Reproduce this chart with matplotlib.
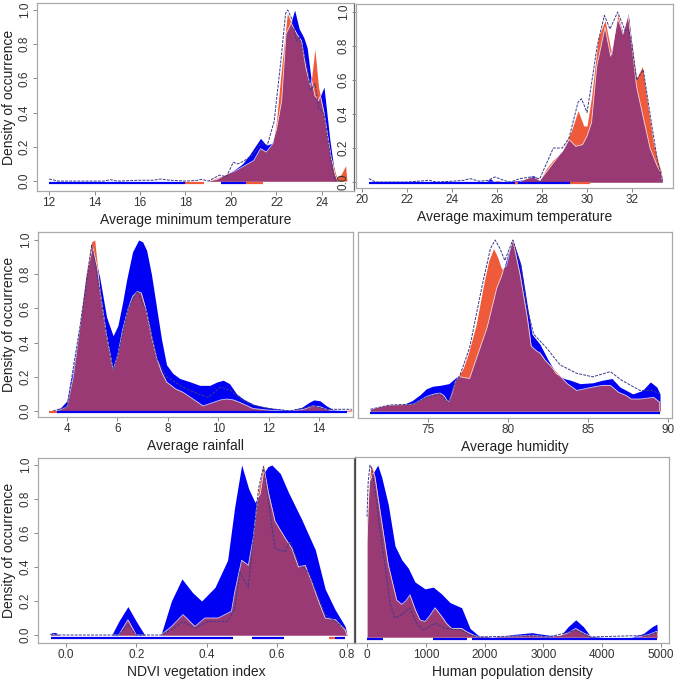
import matplotlib
matplotlib.use('Agg')
import matplotlib.pyplot as plt
import numpy as np

plt.rcParams['font.family'] = ['Liberation Sans', 'DejaVu Sans']

BLUE = '#0000F5'
RED = '#EE5A3A'
PURPLE = '#9A3A74'
DASH = '#3A3A8A'

# ---- Average minimum temperature
xb1 = [12.0, 19.0, 19.4, 19.8, 20.2, 20.5, 20.8, 21.0, 21.3, 21.55, 21.8, 22.0, 22.23, 22.42, 22.6, 22.8, 23.0, 23.2, 23.35, 23.5, 23.69, 23.85, 24.09, 24.35, 24.55, 24.7]
yb1 = [0.0, 0.0, 0.01, 0.04, 0.07, 0.10, 0.15, 0.19, 0.25, 0.21, 0.22, 0.30, 0.47, 0.86, 0.91, 1.00, 0.89, 0.84, 0.78, 0.62, 0.50, 0.47, 0.55, 0.24, 0.05, 0.0]
xr1 = [12.0, 19.0, 19.4, 19.8, 20.2, 20.6, 21.0, 21.3, 21.55, 21.85, 22.0, 22.23, 22.48, 22.7, 22.9, 23.1, 23.3, 23.5, 23.69, 23.85, 24.09, 24.4, 24.65, 24.85, 25.04, 25.1]
yr1 = [0.0, 0.0, 0.02, 0.04, 0.06, 0.09, 0.12, 0.19, 0.17, 0.22, 0.35, 0.67, 0.98, 0.91, 0.86, 0.82, 0.66, 0.55, 0.77, 0.55, 0.40, 0.14, 0.02, 0.04, 0.09, 0.0]
xd1 = [12.0, 12.15, 12.4, 14.4, 14.7, 15.0, 16.0, 16.6, 16.9, 17.3, 18.0, 18.5, 18.7, 19.0, 19.5, 19.8, 20.1, 20.3, 20.6, 21.0, 21.3, 21.6, 21.9, 22.2, 22.4, 22.5, 22.7, 22.88, 23.0, 23.15, 23.38, 23.5, 23.7, 23.85, 24.1, 24.27, 24.45, 24.6]
yd1 = [0.012, 0.008, 0.0, 0.0, 0.008, 0.0, 0.005, 0.005, 0.012, 0.005, 0.0, 0.004, 0.01, 0.0, 0.035, 0.025, 0.11, 0.10, 0.12, 0.16, 0.22, 0.21, 0.35, 0.71, 0.98, 1.0, 0.94, 0.82, 0.84, 0.78, 0.65, 0.53, 0.57, 0.43, 0.39, 0.24, 0.08, 0.0]
rug1 = [(12.0, 18.0, BLUE), (18.0, 18.8, RED), (19.55, 20.65, BLUE), (20.65, 21.4, RED)]

# ---- Average maximum temperature
xb2 = [20.3, 25.5, 25.7, 25.9, 26.3, 27.0, 27.3, 27.6, 27.9, 28.2, 28.6, 29.0, 29.2, 29.5, 29.8, 30.0, 30.2, 30.43, 30.8, 31.05, 31.36, 31.6, 31.83, 32.0, 32.2, 32.5, 32.8, 33.1, 33.3, 33.35]
yb2 = [0.0, 0.0, 0.02, 0.0, 0.0, 0.01, 0.02, 0.04, 0.01, 0.06, 0.13, 0.20, 0.25, 0.21, 0.22, 0.27, 0.35, 0.68, 0.91, 0.74, 0.96, 0.88, 0.99, 0.80, 0.56, 0.38, 0.20, 0.10, 0.05, 0.0]
xr2 = [20.3, 25.8, 26.0, 26.3, 27.0, 27.3, 27.6, 27.9, 28.2, 28.5, 28.9, 29.3, 29.6, 29.85, 30.0, 30.2, 30.5, 30.8, 31.1, 31.36, 31.6, 31.83, 32.0, 32.2, 32.46, 32.7, 32.95, 33.15, 33.3, 33.35]
yr2 = [0.0, 0.0, 0.01, 0.0, 0.0, 0.02, 0.03, 0.01, 0.08, 0.13, 0.18, 0.30, 0.42, 0.33, 0.33, 0.50, 0.85, 0.95, 0.75, 0.985, 0.87, 0.985, 0.80, 0.61, 0.68, 0.45, 0.23, 0.12, 0.06, 0.0]
xd2 = [20.3, 20.6, 22.0, 23.0, 23.3, 24.0, 24.5, 24.8, 25.2, 25.6, 25.9, 26.3, 26.6, 27.0, 27.5, 27.9, 28.2, 28.5, 28.9, 29.2, 29.6, 29.75, 30.0, 30.2, 30.45, 30.77, 31.02, 31.36, 31.69, 31.83, 32.0, 32.2, 32.5, 32.8, 33.1, 33.35]
yd2 = [0.02, 0.0, 0.0, 0.01, 0.0, 0.005, 0.01, 0.02, 0.005, 0.01, 0.03, 0.01, 0.0, 0.02, 0.03, 0.02, 0.11, 0.20, 0.20, 0.26, 0.47, 0.49, 0.41, 0.58, 0.80, 0.98, 0.90, 1.0, 0.89, 0.90, 0.80, 0.60, 0.66, 0.40, 0.15, 0.0]
rug2 = [(20.3, 29.25, BLUE), (26.8, 26.95, RED), (29.25, 30.15, RED)]

# ---- Average rainfall
xb3 = [3.5, 3.75, 4.0, 4.25, 4.52, 4.75, 5.02, 5.3, 5.57, 5.83, 6.02, 6.2, 6.37, 6.6, 6.84, 7.0, 7.16, 7.35, 7.56, 7.75, 7.95, 8.2, 8.48, 8.9, 9.27, 9.67, 9.95, 10.2, 10.45, 10.73, 11.0, 11.38, 11.8, 12.2, 12.85, 13.3, 13.6, 13.8, 14.04, 14.3, 14.6, 15.3]
yb3 = [0.0, 0.02, 0.06, 0.25, 0.52, 0.78, 0.96, 0.78, 0.55, 0.44, 0.5, 0.63, 0.77, 0.93, 1.0, 0.99, 0.94, 0.80, 0.60, 0.42, 0.27, 0.22, 0.19, 0.17, 0.15, 0.15, 0.17, 0.18, 0.16, 0.10, 0.07, 0.04, 0.025, 0.015, 0.005, 0.02, 0.05, 0.065, 0.06, 0.03, 0.005, 0.0]
xr3 = [3.44, 3.7, 4.0, 4.25, 4.52, 4.75, 4.98, 5.1, 5.31, 5.57, 5.83, 6.02, 6.2, 6.43, 6.6, 6.79, 6.95, 7.16, 7.35, 7.56, 7.75, 7.95, 8.3, 8.6, 9.0, 9.4, 9.8, 10.1, 10.34, 10.6, 10.87, 11.38, 12.0, 12.85, 13.4, 13.75, 14.04, 14.3, 14.6, 15.0, 15.3]
yr3 = [0.0, 0.005, 0.025, 0.2, 0.5, 0.8, 0.99, 1.0, 0.7, 0.44, 0.24, 0.33, 0.47, 0.6, 0.67, 0.70, 0.69, 0.58, 0.44, 0.31, 0.23, 0.17, 0.13, 0.11, 0.07, 0.03, 0.05, 0.065, 0.07, 0.065, 0.05, 0.015, 0.005, 0.0, 0.01, 0.03, 0.025, 0.01, 0.0, 0.0, 0.01]
xd3 = [3.44, 4.0, 4.52, 4.98, 5.31, 5.57, 5.83, 6.02, 6.43, 6.79, 7.16, 7.56, 7.95, 8.6, 9.2, 9.6, 10.1, 10.5, 11.0, 11.5, 12.0, 12.85, 13.75, 14.3, 15.3]
yd3 = [0.0, 0.025, 0.5, 0.97, 0.7, 0.44, 0.24, 0.33, 0.6, 0.70, 0.58, 0.31, 0.2, 0.14, 0.1, 0.08, 0.14, 0.12, 0.06, 0.03, 0.015, 0.0, 0.03, 0.01, 0.01]
rug3 = [(3.3, 3.6, RED), (3.6, 15.1, BLUE)]

# ---- Average humidity
xb4 = [71.4, 72.5, 73.5, 74.0, 74.5, 74.9, 75.3, 75.75, 76.3, 76.8, 77.0, 77.6, 78.0, 78.7, 79.3, 79.6, 80.0, 80.3, 80.8, 81.2, 81.5, 82.0, 82.5, 83.0, 83.5, 83.9, 84.5, 85.3, 85.9, 86.5, 87.0, 87.8, 88.4, 88.9, 89.3, 89.5, 89.5]
yb4 = [0.01, 0.035, 0.04, 0.06, 0.095, 0.13, 0.145, 0.15, 0.16, 0.2, 0.2, 0.19, 0.3, 0.49, 0.72, 0.79, 0.92, 1.0, 0.86, 0.62, 0.45, 0.39, 0.3, 0.22, 0.19, 0.18, 0.16, 0.165, 0.18, 0.19, 0.14, 0.1, 0.12, 0.17, 0.14, 0.1, 0.0]
xr4 = [71.4, 72.0, 72.6, 73.4, 74.1, 74.9, 75.4, 75.75, 76.0, 76.27, 76.5, 76.7, 76.9, 77.2, 77.5, 78.0, 78.5, 78.8, 79.1, 79.35, 79.6, 79.9, 80.2, 80.3, 80.75, 81.2, 81.45, 81.8, 82.0, 82.3, 82.8, 83.3, 83.7, 84.3, 84.8, 85.3, 85.9, 86.4, 86.9, 87.4, 87.7, 88.25, 88.7, 89.1, 89.5, 89.5]
yr4 = [0.01, 0.025, 0.035, 0.037, 0.04, 0.084, 0.1, 0.105, 0.09, 0.05, 0.1, 0.17, 0.2, 0.25, 0.33, 0.5, 0.75, 0.88, 0.95, 0.9, 0.83, 0.85, 0.97, 1.0, 0.8, 0.55, 0.38, 0.35, 0.34, 0.3, 0.25, 0.2, 0.16, 0.12, 0.13, 0.14, 0.15, 0.15, 0.11, 0.09, 0.07, 0.07, 0.075, 0.08, 0.05, 0.0]
xd4 = [71.4, 72.6, 74.1, 74.9, 75.75, 76.27, 76.7, 77.0, 77.6, 78.4, 78.9, 79.2, 79.5, 79.8, 80.3, 80.8, 81.2, 81.6, 82.4, 83.25, 84.3, 85.3, 86.4, 87.1, 88.25, 89.0, 89.5]
yd4 = [0.01, 0.035, 0.04, 0.08, 0.1, 0.05, 0.17, 0.21, 0.37, 0.74, 0.95, 1.0, 0.95, 0.88, 1.0, 0.85, 0.6, 0.45, 0.37, 0.27, 0.22, 0.2, 0.23, 0.18, 0.12, 0.12, 0.1]
rug4 = [(71.4, 89.5, BLUE)]

# ---- NDVI vegetation index
xb5 = [-0.045, -0.04, -0.03, -0.02, 0.13, 0.15, 0.176, 0.2, 0.224, 0.27, 0.30, 0.33, 0.36, 0.386, 0.424, 0.46, 0.48, 0.50, 0.52, 0.538, 0.553, 0.562, 0.575, 0.586, 0.61, 0.633, 0.671, 0.71, 0.738, 0.766, 0.795, 0.80]
yb5 = [0.0, 0.015, 0.015, 0.0, 0.0, 0.08, 0.167, 0.08, 0.0, 0.0, 0.2, 0.33, 0.25, 0.2, 0.28, 0.44, 0.75, 1.0, 0.86, 0.78, 0.83, 0.95, 0.99, 1.0, 0.95, 0.84, 0.68, 0.5, 0.27, 0.15, 0.05, 0.0]
xr5 = [-0.045, -0.035, -0.02, 0.15, 0.176, 0.2, 0.27, 0.30, 0.333, 0.367, 0.395, 0.433, 0.471, 0.48, 0.50, 0.519, 0.533, 0.548, 0.562, 0.576, 0.595, 0.624, 0.643, 0.662, 0.681, 0.70, 0.719, 0.738, 0.767, 0.795, 0.80]
yr5 = [0.0, 0.005, 0.0, 0.0, 0.09, 0.0, 0.0, 0.05, 0.12, 0.05, 0.1, 0.1, 0.14, 0.25, 0.44, 0.41, 0.57, 0.85, 1.0, 0.84, 0.67, 0.57, 0.51, 0.4, 0.41, 0.31, 0.2, 0.1, 0.09, 0.03, 0.0]
xd5 = [-0.045, -0.02, 0.15, 0.176, 0.2, 0.27, 0.30, 0.333, 0.367, 0.405, 0.46, 0.48, 0.495, 0.519, 0.548, 0.562, 0.58, 0.595, 0.624, 0.638, 0.662, 0.69, 0.738, 0.795]
yd5 = [0.005, 0.0, 0.0, 0.06, 0.0, 0.0, 0.03, 0.08, 0.04, 0.08, 0.08, 0.15, 0.37, 0.28, 0.86, 0.99, 0.73, 0.51, 0.49, 0.55, 0.42, 0.37, 0.12, 0.04]
rug5 = [(-0.043, 0.476, BLUE), (0.529, 0.62, BLUE), (0.75, 0.766, RED), (0.766, 0.795, BLUE)]

# ---- Human population density
xb6 = [0, 0, 40, 100, 182, 250, 362, 476, 590, 703, 816, 986, 1128, 1270, 1412, 1610, 1752, 1890, 2120, 2300, 2500, 2800, 3100, 3300, 3420, 3550, 3680, 3800, 4000, 4500, 4700, 4850, 4930, 4940]
yb6 = [0.0, 0.55, 0.9, 0.95, 1.0, 0.93, 0.77, 0.53, 0.45, 0.4, 0.32, 0.28, 0.29, 0.25, 0.2, 0.17, 0.05, 0.01, 0.0, 0.005, 0.015, 0.025, 0.01, 0.01, 0.06, 0.1, 0.06, 0.005, 0.0, 0.0, 0.02, 0.06, 0.075, 0.0]
xr6 = [0, 0, 40, 68, 100, 136, 250, 362, 505, 590, 660, 731, 820, 900, 986, 1080, 1156, 1270, 1350, 1440, 1610, 1700, 1850, 2100, 2500, 2800, 3100, 3400, 3550, 3700, 3850, 4600, 4800, 4940, 4940]
yr6 = [0.0, 0.68, 0.9, 1.0, 0.97, 0.93, 0.67, 0.42, 0.215, 0.19, 0.21, 0.245, 0.16, 0.1, 0.09, 0.13, 0.17, 0.12, 0.08, 0.05, 0.05, 0.03, 0.005, 0.0, 0.005, 0.01, 0.0, 0.02, 0.05, 0.02, 0.0, 0.0, 0.015, 0.035, 0.0]
xd6 = [0, 20, 50, 80, 140, 220, 306, 391, 476, 590, 731, 840, 958, 1156, 1327, 1610, 1752, 1900, 2500, 2800, 3100, 3550, 3800, 4800, 4940]
yd6 = [0.7, 0.9, 1.0, 0.98, 0.85, 0.62, 0.42, 0.2, 0.11, 0.13, 0.17, 0.08, 0.04, 0.08, 0.05, 0.04, 0.01, 0.0, 0.005, 0.008, 0.0, 0.04, 0.0, 0.01, 0.03]
rug6 = [(0, 277, BLUE), (1117, 1695, BLUE), (1780, 4937, BLUE)]

yticks = [0.0, 0.2, 0.4, 0.6, 0.8, 1.0]

W = 685.0
fig = plt.figure(figsize=(6.85, 6.85), dpi=100)


def panel(px, xlim, ylim, xticks, xticklabels, xlabel, curves, rug, rug_y,
          ylabels=True, ylab=False, ylabel_ticks=True):
    l, t, r, b = px
    ax = fig.add_axes([l / W, 1 - b / W, (r - l) / W, (b - t) / W])
    xb, yb, xr, yr, xd, yd = curves
    blue = ax.fill_between(xb, yb, color=BLUE, lw=0, zorder=1)
    red = ax.fill_between(xr, yr, color=RED, lw=0, zorder=2)
    purple = ax.fill_between(xr, yr, color=PURPLE, lw=0, zorder=3)
    purple.set_clip_path(blue.get_paths()[0], ax.transData)
    l1, = ax.plot(xr, yr, color='white', lw=0.6, alpha=0.8, zorder=4)
    l1.set_clip_path(blue.get_paths()[0], ax.transData)
    l2, = ax.plot(xb, yb, color='white', lw=0.6, alpha=0.8, zorder=4)
    l2.set_clip_path(red.get_paths()[0], ax.transData)
    ax.plot(xd, yd, color=DASH, lw=0.7, ls=(0, (3, 1.2)), zorder=5)
    for x0, x1, c in rug:
        ax.plot([x0, x1], [rug_y, rug_y], color=c, lw=1.6, solid_capstyle='butt', zorder=6)
    ax.set_xlim(xlim)
    ax.set_ylim(ylim)
    ax.set_xticks(xticks)
    ax.set_xticklabels(xticklabels)
    ax.set_xlabel(xlabel, fontsize=10, labelpad=3, color='#222222')
    if ylabel_ticks:
        ax.set_yticks(yticks)
        if ylabels:
            ax.set_yticklabels(['%.1f' % v for v in yticks], rotation=90, va='center')
        else:
            ax.set_yticklabels([])
    else:
        ax.set_yticks([])
    if ylab:
        ax.set_ylabel('Density of occurrence', fontsize=10, color='#222222')
        ax.yaxis.set_label_coords((16 - l) / (r - l), 0.5)
    ax.tick_params(length=3, width=0.7, color='#888888', labelsize=8.5,
                   labelcolor='#333333', pad=1.5)
    for s in ax.spines.values():
        s.set_color('#AAAAAA')
        s.set_linewidth(0.9)
    return ax


ax1 = panel((37, 3, 354, 191), (11.47, 25.41), (-0.058, 1.041),
            [12, 14, 16, 18, 20, 22, 24], ['12', '14', '16', '18', '20', '22', '24'],
            'Average minimum temperature', (xb1, yb1, xr1, yr1, xd1, yd1), rug1, -0.012, ylab=True)
ax1.spines['right'].set_color('#666666')

ax2 = panel((356, 4, 673, 188), (19.73, 33.82), (-0.035, 1.047),
            [20, 22, 24, 26, 28, 30, 32], ['20', '22', '24', '26', '28', '30', '32'],
            'Average maximum temperature', (xb2, yb2, xr2, yr2, xd2, yd2), rug2, -0.008)

ax3 = panel((38, 232, 353, 417), (2.849, 15.35), (-0.035, 1.047),
            [4, 6, 8, 10, 12, 14], ['4', '6', '8', '10', '12', '14'],
            'Average rainfall', (xb3, yb3, xr3, yr3, xd3, yd3), rug3, -0.006, ylab=True)

ax4 = panel((358, 232, 672, 418), (70.625, 90.25), (-0.041, 1.047),
            [75, 80, 85, 90], ['75', '80', '85', '90'],
            'Average humidity', (xb4, yb4, xr4, yr4, xd4, yd4), rug4, -0.014,
            ylabel_ticks=False)

ax5 = panel((38, 458, 354, 643), (-0.08, 0.82), (-0.047, 1.041),
            [0.0, 0.2, 0.4, 0.6, 0.8], ['0.0', '0.2', '0.4', '0.6', '0.8'],
            'NDVI vegetation index', (xb5, yb5, xr5, yr5, xd5, yd5), rug5, -0.02, ylab=True)
ax5.spines['right'].set_color('#666666')

ax6 = panel((355, 457, 669, 643), (-204, 5136), (-0.035, 1.047),
            [0, 1000, 2000, 3000, 4000, 5000], ['0', '1000', '2000', '3000', '4000', '5000'],
            'Human population density', (xb6, yb6, xr6, yr6, xd6, yd6), rug6, -0.01,
            ylabel_ticks=False)
ax6.spines['left'].set_color('#444444')

fig.savefig('out.png', dpi=100, facecolor='white')
